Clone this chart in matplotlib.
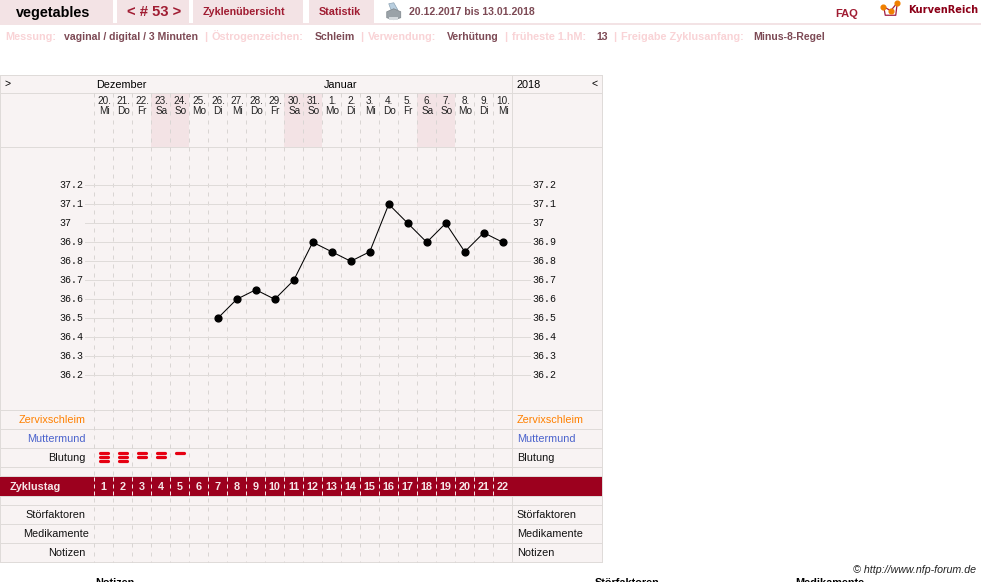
import matplotlib
matplotlib.use("Agg")
import matplotlib.pyplot as plt
from matplotlib.patches import Polygon, Rectangle

plt.rcParams["font.family"] = ["Liberation Sans", "DejaVu Sans"]

WIDTH, HEIGHT = 981, 582

cycle_days = list(range(1, 23))
dates = ["20.", "21.", "22.", "23.", "24.", "25.", "26.", "27.", "28.", "29.", "30.", "31.",
         "1.", "2.", "3.", "4.", "5.", "6.", "7.", "8.", "9.", "10."]
weekdays = ["Mi", "Do", "Fr", "Sa", "So", "Mo", "Di", "Mi", "Do", "Fr", "Sa", "So",
            "Mo", "Di", "Mi", "Do", "Fr", "Sa", "So", "Mo", "Di", "Mi"]
temp_ticks = [37.2, 37.1, 37.0, 36.9, 36.8, 36.7, 36.6, 36.5, 36.4, 36.3, 36.2]
temp_labels = ["37.2", "37.1", "37", "36.9", "36.8", "36.7", "36.6", "36.5", "36.4", "36.3", "36.2"]
temp_days = [7, 8, 9, 10, 11, 12, 13, 14, 15, 16, 17, 18, 19, 20, 21, 22]
temps = [36.5, 36.6, 36.65, 36.6, 36.7, 36.9, 36.85, 36.8, 36.85, 37.1, 37.0, 36.9, 37.0, 36.85, 36.95, 36.9]
bleeding_days = [1, 2, 3, 4, 5]
bleeding_strokes = [3, 3, 2, 2, 1]

PANEL = "#f8f3f3"
WEEKEND = "#f3e3e5"
TAB = "#f3e3e5"
GRID = "#dfdbd9"
DASH = "#d9d5d3"
DARKRED = "#9c001e"
TABTEXT = "#a01c32"
MUTED = "#7d4a55"
PALE = "#f9d3d6"
PX = 0.72  # one pixel line width at 100 dpi
SHIFT = 0.25  # keeps snapped 1px lines on the intended pixel row


def sx(day_edge):
    return 94.5 + 19 * day_edge


fig = plt.figure(figsize=(WIDTH / 100, HEIGHT / 100), dpi=100)

# page layer in pixel coordinates
page = fig.add_axes([0, 0, 1, 1])
page.set_xlim(SHIFT, WIDTH + SHIFT)
page.set_ylim(HEIGHT + SHIFT, SHIFT)
page.axis("off")


def label(x, y, s, size=7.6, color="black", ha="left", weight="normal", **kw):
    page.text(x, y + 0.6, s, fontsize=size, color=color, ha=ha, va="center", fontweight=weight, zorder=6, **kw)


def box(x0, y0, x1, y1, color, z=1):
    page.add_patch(Rectangle((x0, y0), x1 - x0, y1 - y0, facecolor=color, edgecolor="none", zorder=z))


# header tabs
for x0, x1 in [(0, 113), (117, 189), (193, 303), (309, 374)]:
    box(x0, 0, x1, 23, TAB)
box(0, 23, WIDTH, 25, TAB)
label(16, 12.5, "vegetables", size=10.4, weight="bold")
label(127, 12, "< # 53 >", size=10.6, color=TABTEXT, weight="bold")
label(203, 11.5, "Zyklenübersicht", size=7.75, color=TABTEXT, weight="bold")
label(319, 11.5, "Statistik", size=7.75, color=TABTEXT, weight="bold")
label(409, 11.5, "20.12.2017 bis 13.01.2018", size=7.6, color=MUTED, weight="bold")
label(836, 13.5, "FAQ", size=8.0, color=TABTEXT, weight="bold")
label(908.5, 9.8, "KurvenReich", size=7.1, color="#8c0018", weight="bold", family="DejaVu Sans")

# printer icon
page.add_patch(Polygon([(389, 4), (394, 3), (398, 10), (392, 12)], facecolor="#b9cfe0", edgecolor="#8ea4b5", lw=0.5, zorder=2))
page.add_patch(Polygon([(387, 12), (394, 9), (401, 12), (401, 18), (394, 20), (387, 18)], facecolor="#9aa2a8", edgecolor="#7d858b", lw=0.5, zorder=3))
box(389, 17, 398, 20, "#d4d9dd", 3)

# logo
page.plot([884, 885.5, 896, 897.5], [7, 15.5, 15.5, 3], color="#a01c42", lw=0.9, zorder=2)
page.plot([884, 891, 897.5], [7, 11, 3], color="#a01c42", lw=0.9, zorder=2)
page.plot([883, 891, 897.5], [7, 11, 3], ls="none", marker="o", ms=3.4, color="#f08000", zorder=3)

# settings line, on a shared baseline so the umlaut does not shift its label
settings = [
    (5, "Messung:", PALE), (64, "vaginal / digital / 3 Minuten", MUTED), (204, "|", PALE),
    (212, "Östrogenzeichen:", PALE), (315, "Schleim", MUTED), (360, "|", PALE),
    (368, "Verwendung:", PALE), (447, "Verhütung", MUTED), (504, "|", PALE),
    (512, "früheste 1.hM:", PALE), (597, "13", MUTED), (613, "|", PALE),
    (621, "Freigabe Zyklusanfang:", PALE), (754, "Minus-8-Regel", MUTED),
]
for x, s, c in settings:
    page.text(x, 40, s, fontsize=7.8 if c == PALE else 7.6, color=c, fontweight="bold", va="baseline", zorder=6)

# table background and weekend columns
box(0.5, 75.5, 602.5, 562.5, PANEL)
for i, wd in enumerate(weekdays):
    if wd in ("Sa", "So"):
        box(sx(i), 93.5, sx(i + 1), 147.5, WEEKEND, 1.5)

# table rules
row_lines = [75.5, 93.5, 147.5, 410.5, 429.5, 448.5, 467.5, 476.5, 496.5, 505.5, 524.5, 543.5, 562.5]
for y in row_lines:
    page.plot([0.5, 602.5], [y, y], color=GRID, lw=PX, zorder=2, solid_capstyle="butt")
for x in [0.5, 512.5, 602.5]:
    page.plot([x, x], [75.5, 562.5], color=GRID, lw=PX, zorder=2)

# dashed day separators
for i in range(22):
    page.plot([sx(i), sx(i)], [93.5, 562.5], color=DASH, lw=PX, ls=(0, (4, 5)), zorder=2)

# calendar header
label(5, 83, ">", size=7.5)
label(96, 84.5, "Dezember", size=7.8)
label(324, 84.5, "Januar", size=7.8)
label(517, 84.5, "2018", size=7.8)
label(592, 83, "<", size=7.5)
for i, (d, wd) in enumerate(zip(dates, weekdays)):
    xc = sx(i) + 10
    label(xc, 100.5, d, size=7.2, ha="center", color="#222222")
    label(xc, 110.5, wd, size=7.2, ha="center", color="#222222")

# row captions on both sides
captions = [(420, "Zervixschleim", "#ff8000", 85.5), (439, "Muttermund", "#4a62cc", 85.5),
            (458, "Blutung", "#111111", 86), (515, "Störfaktoren", "#111111", 85.5),
            (534, "Medikamente", "#111111", 89), (553, "Notizen", "#111111", 86)]
for y, s, c, right in captions:
    label(right, y - 0.5, s, size=7.8, color=c, ha="right")
    label(517, y - 0.5, s, size=7.8, color=c)

# cycle day band
box(0.5, 477, 602.5, 496, DARKRED, 3)
label(10, 486.3, "Zyklustag", size=7.8, color="#f6e6e8", weight="bold")
for x_day in cycle_days:
    label(sx(x_day - 0.5), 486.3, str(x_day), size=7.8, color="#f6e6e8", ha="center", weight="bold")
    page.plot([sx(x_day - 1)] * 2, [477, 496], color="#f6e6e8", lw=PX, ls=(0, (4, 3)), zorder=4)

# bleeding strokes
for day, n in zip(bleeding_days, bleeding_strokes):
    for k in range(n):
        page.plot([sx(day - 0.5) - 4.2, sx(day - 0.5) + 4.2], [453.4 + 4 * k] * 2, color="#e60012", lw=2.3,
                  solid_capstyle="round", zorder=4)

# temperature axes, x in cycle days and y in degrees
y_top, y_bottom = 147.5, 410.5
temp_per_px = 0.1 / 19
ax = fig.add_axes([(sx(0) - SHIFT) / WIDTH, 1 - (y_bottom - SHIFT) / HEIGHT,
                   (sx(22) - sx(0)) / WIDTH, (y_bottom - y_top) / HEIGHT])
ax.set_xlim(0.5, 22.5)
ax.set_ylim(37.2 - (y_bottom - 185.5) * temp_per_px, 37.2 + (185.5 - y_top) * temp_per_px)
ax.patch.set_alpha(0)
ax.axis("off")
for t in temp_ticks:
    ax.axhline(t, color=GRID, lw=PX, zorder=1)
ax.plot(temp_days, temps, color="black", lw=0.75, marker="o", ms=4.9, zorder=3, clip_on=False)

# tick labels and stubs either side of the chart
for t, s in zip(temp_ticks, temp_labels):
    y = 185.5 + (37.2 - t) / temp_per_px
    page.plot([85, 94.5], [y, y], color=GRID, lw=PX, zorder=2)
    page.plot([512.5, 530], [y, y], color=GRID, lw=PX, zorder=2)
    label(59.5, y - 0.5, s, size=7.2, color="#111111", family="Liberation Mono")
    label(532.5, y - 0.5, s, size=7.2, color="#111111", family="Liberation Mono")

# footer
label(853, 569.5, "© http://www.nfp-forum.de", size=7.7, color="#222222", style="italic")
label(95, 583, "Notizen", size=7.8, weight="bold")
label(595, 583, "Störfaktoren", size=7.8, weight="bold")
label(795, 583, "Medikamente", size=7.8, weight="bold")

fig.savefig("out.png", dpi=100)
